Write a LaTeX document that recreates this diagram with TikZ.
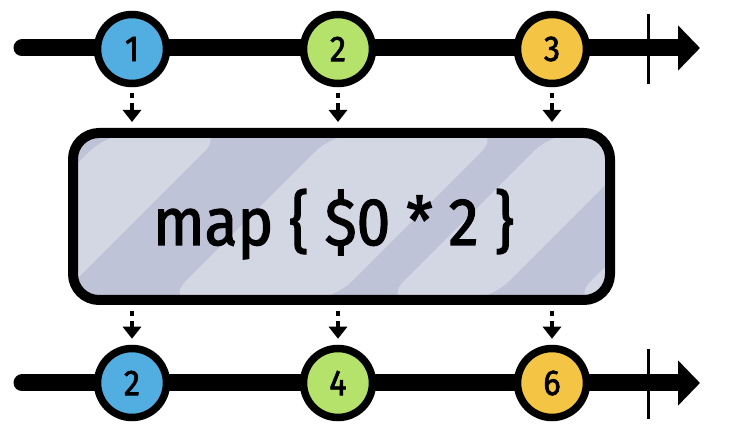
\documentclass[tikz,border=0pt]{standalone}
\usepackage{fontspec}
\newfontfamily\sketchfont[FakeStretch=0.9, FakeBold=1.8]{Fira Sans}
\usetikzlibrary{arrows.meta,shapes.geometric,positioning,calc}
\definecolor{marbleblue}{HTML}{52ADE0}
\definecolor{marblegreen}{HTML}{B5E26A}
\definecolor{marbleyellow}{HTML}{F4C545}
\definecolor{boxfill}{HTML}{BEC3D8}
\definecolor{boxstripe}{HTML}{D3D7E4}
\tikzset{
  stream/.style={line width=17pt, line cap=round, -{Triangle[length=22pt,width=44pt]}},
  marble/.style={ellipse, draw, line width=7.5pt, minimum width=69pt, minimum height=69pt,
    inner sep=0pt, font=\sketchfont\fontsize{36}{36}\selectfont},
  flowarrow/.style={line width=3.5pt, dash pattern=on 5pt off 5pt on 40pt,
    shorten <=6pt, shorten >=6pt, -{Triangle[length=12pt,width=18pt]}},
  opbox/.style={draw, line width=10pt, rounded corners=26pt, fill=boxfill,
    minimum width=537pt, minimum height=167pt,
    font=\sketchfont\fontsize{67}{67}\selectfont},
}
\begin{document}
\begin{tikzpicture}[x=1pt,y=-1pt]
\useasboundingbox (0,0) rectangle (740,438);
% input stream
\coordinate (in start) at (22,48);
\coordinate (in end) at (700,48);
\draw[stream] (in start) -- (in end);
\draw[line width=3pt] (648,14) -- (648,84);
\node[marble, fill=marbleblue] (v1) at (132,49) {1};
\node[marble, fill=marblegreen] (v2) at (338,49) {2};
\node[marble, fill=marbleyellow] (v3) at (552,49) {3};
% operator
\node[opbox, path picture={
    \foreach \u/\v in {241/356,467/633,685/790,872/990}
      \fill[boxstripe] ([shift={(\u-206,0)}]path picture bounding box.north west)
        -- ([shift={(\v-206,0)}]path picture bounding box.north west)
        -- ([shift={(\v-373,167)}]path picture bounding box.north west)
        -- ([shift={(\u-373,167)}]path picture bounding box.north west) -- cycle;
  }] (op) at (341.5,216.5) {\raisebox{-28.5pt}[0pt][0pt]{map \{ \$0 * 2 \}}\hspace*{16pt}};
% output stream
\coordinate (out start) at (22,383);
\coordinate (out end) at (700,383);
\draw[stream] (out start) -- (out end);
\draw[line width=3pt] (648,349) -- (648,419);
\node[marble, fill=marbleblue] (w1) at (132,383) {2};
\node[marble, fill=marblegreen] (w2) at (338,383) {4};
\node[marble, fill=marbleyellow] (w3) at (552,383) {6};
% arrows
\foreach \i in {1,2,3} {
  \draw[flowarrow] (v\i.south) -- (v\i.south |- op.north);
  \draw[flowarrow] (op.south -| w\i.north) -- (w\i.north);
}
\end{tikzpicture}
\end{document}
